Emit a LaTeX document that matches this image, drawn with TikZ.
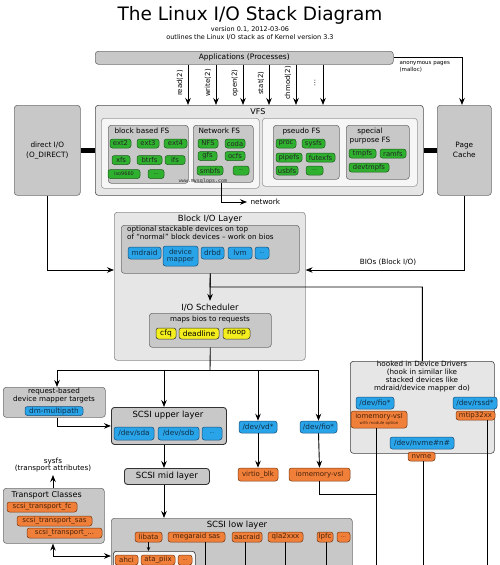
\documentclass[tikz,border=0pt]{standalone}
\usepackage{fontspec}
\setmainfont{DejaVu Sans}
\setmonofont{DejaVu Sans Mono}
\usetikzlibrary{arrows.meta,calc}
\definecolor{boxgray}{HTML}{C8C8C8}
\definecolor{boxline}{HTML}{6E6E6E}
\definecolor{lightgray}{HTML}{E6E6E6}
\definecolor{innerwhite}{HTML}{F6F6F6}
\definecolor{pgreen}{HTML}{2FB02F}
\definecolor{pgreenl}{HTML}{1E5E1E}
\definecolor{pblue}{HTML}{2AA4E8}
\definecolor{pbluel}{HTML}{1A4F7A}
\definecolor{porange}{HTML}{F07F3A}
\definecolor{porangel}{HTML}{7A3A10}
\definecolor{pyellow}{HTML}{F4EE1E}
\begin{document}
\begin{tikzpicture}[x=1pt,y=-1pt,
  fs/.style={font=\fontsize{#1}{#1}\selectfont},
  ml/.style 2 args={font=\fontsize{#1}{#2}\selectfont},
  box/.style={draw=boxline, fill=boxgray, rounded corners=3pt, line width=0.6pt, anchor=north west, inner sep=0pt},
  lbox/.style={box, fill=lightgray},
  wbox/.style={box, fill=innerwhite, draw=boxline!70},
  pill/.style={rounded corners=2.5pt, line width=0.5pt, inner sep=0pt, minimum height=9pt, fs=6.8},
  gp/.style={pill, fill=pgreen, draw=pgreenl, text=black!85},
  bp/.style={pill, fill=pblue, draw=pbluel, text=pbluel!60!black, minimum height=12pt, fs=7.3},
  op/.style={pill, fill=porange, draw=porangel, text=porangel!60!black, minimum height=10pt, fs=7},
  yp/.style={pill, fill=pyellow, draw=black!80, text=black, minimum height=11pt, fs=7.5},
  arr/.style={-{Stealth[length=7pt,width=5.5pt]}, line width=0.9pt},
  ln/.style={line width=0.9pt},
  bar/.style={line width=5pt}
]
\useasboundingbox[fill=white] (0,0) rectangle (500,565);

% title
\node[fs=18.5] (title) at (250,15) {The Linux I/O Stack Diagram};
\node[fs=6.5] (ver) at (250,29.5) {version 0.1, 2012-03-06};
\node[fs=6.5] (outl) at (250,37.5) {outlines the Linux I/O stack as of Kernel version 3.3};

% applications
\node[box, minimum width=298pt, minimum height=13pt, fs=7.5] (apps) at (95,51) {Applications (Processes)};
\node[ml={5.5}{6.8}, anchor=west, align=left] (anon) at (396,67) {anonymous pages\\(malloc)};

% VFS
\node[lbox, draw=black!70, minimum width=328pt, minimum height=90pt] (vfs) at (95,105) {};
\node[fs=8] (vfslbl) at (258,112) {VFS};
\node[wbox, minimum width=158pt, minimum height=70pt] (vin1) at (101,118) {};
\node[wbox, minimum width=155pt, minimum height=68pt] (vin2) at (262,118) {};

\node[box, minimum width=80pt, minimum height=58pt] (bbfs) at (108,125) {};
\node[fs=7.3, anchor=west] (bbfsl) at (111,131) {block based FS};
\node[box, minimum width=60pt, minimum height=57pt] (netfs) at (193,125) {};
\node[fs=7.3, anchor=west] (netfsl) at (195,131) {Network FS};
\node[box, minimum width=66pt, minimum height=54pt] (psfs) at (273,125) {};
\node[fs=7.3, anchor=west] (psfsl) at (279,131) {pseudo FS};
\node[box, minimum width=63pt, minimum height=54pt] (spfs) at (346,125) {};
\node[ml={7.3}{9}, align=center] (spfsl) at (370,135.5) {special\\purpose FS};

\node[gp, minimum width=21pt] (ext2) at (120.5,143.5) {ext2};
\node[gp, minimum width=22pt] (ext3) at (148,143.5) {ext3};
\node[gp, minimum width=23pt] (ext4) at (175.5,143.5) {ext4};
\node[gp, minimum width=18pt] (xfs) at (121,160) {xfs};
\node[gp, minimum width=25pt] (btrfs) at (149.5,160) {btrfs};
\node[gp, minimum width=20pt] (ifs) at (175,160) {ifs};
\node[gp, minimum width=32pt, fs=5] (iso) at (124,174) {iso9660};
\node[gp, minimum width=16pt, fs=5] (bbdots) at (156,174) {...};
\node[gp, minimum width=20pt] (nfs) at (208,143.5) {NFS};
\node[gp, minimum width=20pt] (coda) at (235,143.5) {coda};
\node[gp, minimum width=19pt] (gfs) at (207.5,156) {gfs};
\node[gp, minimum width=20pt] (ocfs) at (235,156) {ocfs};
\node[gp, minimum width=26pt] (smbfs) at (210,170.5) {smbfs};
\node[gp, minimum width=16pt, fs=5] (nfdots) at (241,170.5) {...};
\node[gp, minimum width=20pt] (proc) at (286,143.5) {proc};
\node[gp, minimum width=23pt] (sysfs) at (313.5,143.5) {sysfs};
\node[gp, minimum width=26pt] (pipefs) at (289,157.5) {pipefs};
\node[gp, minimum width=29pt] (futexfs) at (320.5,157.5) {futexfs};
\node[gp, minimum width=22pt] (usbfs) at (287,170.5) {usbfs};
\node[gp, minimum width=17pt, fs=5] (psdots) at (314.5,170.5) {...};
\node[gp, minimum width=27pt] (tmpfs) at (362.5,153.5) {tmpfs};
\node[gp, minimum width=26pt] (ramfs) at (393,153.5) {ramfs};
\node[gp, minimum width=40pt] (devtmpfs) at (369,167.5) {devtmpfs};
\node[font=\ttfamily\fontsize{5}{5}\selectfont, text=black!80] (wm) at (203,181) {www.mysqlops.com};

% side boxes
\node[box, minimum width=66pt, minimum height=90pt, align=center, ml={7.3}{10}] (dio) at (14,105) {direct I/O\\(O\_DIRECT)};
\node[box, minimum width=54pt, minimum height=90pt, align=center, ml={7.3}{10}] (pc) at (437,105) {Page\\Cache};
\draw[bar] (dio.east) -- (vfs.west);
\draw[bar] (vfs.east) -- (pc.west);

% syscall arrows
\foreach \xx/\lab/\nm in {188/read(2)/sc1, 216/write(2)/sc2, 243/open(2)/sc3, 269/stat(2)/sc4, 296/chmod(2)/sc5}{
  \draw[arr] (apps.south -| \xx,0) -- (vfs.north -| \xx,0);
  \node[fs=7, rotate=90] (\nm) at (\xx-8,83) {\lab};
}
\draw[arr] (apps.south -| 323,0) -- (vfs.north -| 323,0);
\node[fs=7, rotate=90] (sc6) at (315,83) {\ldots};
\draw[arr] (apps.east) -| (462,105);

% network
\node[fs=7.3, anchor=west] (netl) at (247,202) {network};
\draw[arr] ([xshift=-2pt]netfs.south) |- (netl.west);

% Block I/O layer
\node[lbox, draw=boxline!80, minimum width=191pt, minimum height=148pt] (blk) at (114,212) {};
\node[fs=8.5] (blkl) at (210,219) {Block I/O Layer};
\node[box, minimum width=178pt, minimum height=48pt] (stk) at (121,225) {};
\node[ml={7.2}{8}, anchor=north west, align=left, inner sep=0pt] (stkl) at (127,226) {optional stackable devices on top\\of “normal” block devices – work on bios};
\node[bp, minimum width=33pt] (mdraid) at (144.5,253) {mdraid};
\node[bp, minimum width=35pt, minimum height=20pt, align=center, ml={7}{6.5}] (dm) at (180.5,256) {device\\mapper};
\node[bp, minimum width=23pt] (drbd) at (212.5,253) {drbd};
\node[bp, minimum width=24pt] (lvm) at (240,253) {lvm};
\node[bp, minimum width=14pt, fs=5] (stkdots) at (262,253) {...};

\node[fs=8.5] (iosl) at (210,308) {I/O Scheduler};
\node[box, minimum width=122pt, minimum height=34pt] (maps) at (149,313) {};
\node[fs=7.2] (mapsl) at (210,320) {maps bios to requests};
\node[yp, minimum width=20pt] (cfq) at (166,333.5) {cfq};
\node[yp, minimum width=40pt] (deadline) at (199,333.5) {deadline};
\node[yp, minimum width=27pt] (noop) at (236.5,333.5) {noop};

% entries into block layer
\node[fs=7.2] (biosl) at (388,262) {BIOs (Block I/O)};
\draw[arr] (dio.south) |- (blk.west |- 0,270);
\draw[arr] (pc.south) |- (blk.east |- 0,270);

% hooked in device drivers
\node[lbox, draw=black!75, minimum width=144pt, minimum height=92pt] (hook) at (350,361) {};
\node[ml={7.2}{7.9}, align=center, inner sep=0pt] (hookl) at (422,376.5) {hooked in Device Drivers\\(hook in similar like\\stacked devices like\\mdraid/device mapper do)};
\node[bp, minimum width=38pt] (hfio) at (375,403) {/dev/fio*};
\node[op, minimum width=56pt, minimum height=17pt, align=center, ml={7}{6}] (hiom) at (379,419.5) {iomemory-vsl\\{\fontsize{4}{4}\selectfont with module option}};
\node[bp, minimum width=44pt] (rssd) at (475,403) {/dev/rssd*};
\node[op, minimum width=39pt, minimum height=9pt] (mtip) at (475.5,415.5) {mtip32xx};
\node[bp, minimum width=64pt] (nvmed) at (422,443) {/dev/nvme\#n\#};
\node[op, minimum width=27pt, minimum height=9pt] (nvme) at (421.5,456.5) {nvme};

\draw[ln] (stk.south) -- (210,287) -| (hook.north);
\draw[arr] (stk.south) -- (iosl.north);

% below scheduler
\node[box, minimum width=102pt, minimum height=30pt] (rb) at (3,387) {};
\node[ml={7.2}{8}, align=center, inner sep=0pt] (rbl) at (54,396) {request-based\\device mapper targets};
\node[bp, minimum width=58pt, minimum height=9pt] (dmmp) at (54,411) {dm-multipath};

\node[box, draw=black!80, line width=0.9pt, minimum width=115pt, minimum height=37pt] (up) at (111,407) {};
\node[fs=8.5] (upl) at (168,415) {SCSI upper layer};
\node[bp, minimum width=40pt, minimum height=13pt] (sda) at (134,433.5) {/dev/sda};
\node[bp, minimum width=41pt, minimum height=13pt] (sdb) at (178.5,433.5) {/dev/sdb};
\node[bp, minimum width=20pt, minimum height=13pt, fs=5] (updots) at (212,433.5) {...};

\node[bp, minimum width=38pt] (vd) at (258,427) {/dev/vd*};
\node[bp, minimum width=37pt] (fio) at (318.5,427) {/dev/fio*};
\node[op, minimum width=40pt, minimum height=13pt] (virtio) at (258,474.5) {virtio\_blk};
\node[op, minimum width=61pt, minimum height=13pt] (iom) at (319.5,474.5) {iomemory-vsl};

\draw[ln] (maps.south) -- (210,370);
\draw[ln] (57,370) -- (318.5,370);
\draw[arr] (57,370) -- (rb.north -| 57,0);
\draw[arr] (164,370) -- (up.north -| 164,0);
\draw[arr] (258,370) -- (vd.north);
\draw[arr] (318.5,370) -- (fio.north);
\draw[arr] (rb.south -| 57,0) |- (up.west);
\draw[arr] (vd.south) -- (virtio.north);
\draw[arr] (fio.south) -- (iom.north);
\draw[ln] (iom.south) |- (376,494);

\node[box, draw=black!80, line width=0.9pt, minimum width=85pt, minimum height=16pt, fs=8.5] (mid) at (124,468) {SCSI mid layer};
\draw[arr] (up.south -| 164,0) -- (mid.north -| 164,0);

% transport classes
\node[ml={7.2}{7.5}, align=center, inner sep=0pt] (sysfsl) at (53,465) {sysfs\\(transport attributes)};
\node[box, minimum width=101pt, minimum height=55pt] (tc) at (3,488) {};
\node[fs=8, anchor=west] (tcl) at (8,495) {Transport Classes};
\node[op, minimum width=70pt] (tfc) at (42,507) {scsi\_transport\_fc};
\node[op, minimum width=75pt] (tsas) at (54.5,521) {scsi\_transport\_sas};
\node[op, minimum width=75pt] (tdots) at (64.5,533) {scsi\_transport\_...};
\draw[arr] (tc.north -| 53,0) -- (53,475);

% SCSI low layer
\node[box, minimum width=241pt, minimum height=70pt] (low) at (111,518) {};
\node[fs=8.5] (lowl) at (237,525) {SCSI low layer};
\draw[arr] (mid.south -| 164,0) -- (low.north -| 164,0);
\draw[{Stealth[length=7pt,width=5.5pt]}-{Stealth[length=7pt,width=5.5pt]}, line width=0.9pt] (tc.south -| 53,0) |- (low.west |- 0,556);
\node[op, minimum width=27pt] (libata) at (148.5,537) {libata};
\node[op, minimum width=57pt] (mega) at (196.5,537) {megaraid sas};
\node[op, minimum width=30pt] (aac) at (247,537) {aacraid};
\node[op, minimum width=35pt] (qla) at (285.5,537) {qla2xxx};
\node[op, minimum width=16pt] (lpfc) at (325,537) {lpfc};
\node[op, minimum width=13pt, fs=5] (lowdots) at (343.5,537) {...};
\node[box, fill=innerwhite, draw=black!80, minimum width=82pt, minimum height=30pt] (sub) at (113,551) {};
\node[op, minimum width=23pt] (ahci) at (126.5,560) {ahci};
\node[op, minimum width=34pt] (ata) at (158,560) {ata\_piix};
\node[op, minimum width=14pt, fs=5] (subdots) at (185,560) {...};
\draw[-{Stealth[length=4pt,width=3.5pt]}, line width=0.7pt] (libata.south) -- (libata.south |- sub.north);

% lines to bottom
\coordinate (b1) at (205,566);
\coordinate (b2) at (245,566);
\coordinate (b3) at (285,566);
\coordinate (b4) at (326,566);
\coordinate (b5) at (376,566);
\coordinate (b6) at (423,566);
\coordinate (b7) at (487,566);
\draw[ln] (mega.south -| b1) -- (b1);
\draw[ln] (aac.south -| b2) -- (b2);
\draw[ln] (qla.south -| b3) -- (b3);
\draw[ln] (lpfc.south -| b4) -- (b4);
\draw[ln] (hiom.south -| b5) -- (b5);
\draw[ln] (nvme.south -| b6) -- (b6);
\draw[ln] (mtip.south -| b7) -- (b7);
\end{tikzpicture}
\end{document}
